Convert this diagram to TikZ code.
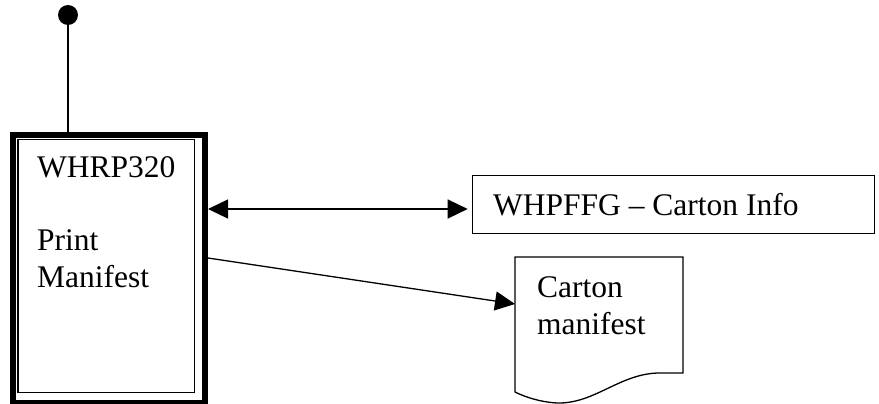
\documentclass[tikz,border=0pt]{standalone}
\usepackage{fontspec}
\setmainfont{Liberation Serif}
\usetikzlibrary{arrows.meta}
\begin{document}
\begin{tikzpicture}[x=1pt,y=-1pt,
  >={Triangle[length=20pt,width=19pt]},
  thin line/.style={line width=1.3pt},
  lbl/.style={anchor=base west,inner sep=0pt,font=\fontsize{31.5}{36.5}\selectfont}]
\useasboundingbox (0,0) rectangle (879,404);
% main process box (thick-thin border)
\node[draw,line width=6pt,minimum width=192pt,minimum height=268.5pt,inner sep=0pt,anchor=north west] (main) at (10,131.5) {};
\draw[line width=1.5pt] (18,139.5) rectangle (194.5,392.5);
\node[lbl] (t1) at (37,177) {WHRP320};
\node[lbl] (t2) at (37,250) {Print};
\node[lbl] (t3) at (37,287) {Manifest};
% dot and stem
\node[circle,fill,minimum size=20pt,inner sep=0pt] (dot) at (68,15) {};
\draw[thin line] (dot) -- (dot |- main.north);
% info box
\node[draw,thin line,minimum width=402pt,minimum height=57.7pt,inner sep=0pt,anchor=north west] (info) at (471.7,175) {};
\node[lbl] (t4) at (493,215) {WHPFFG – Carton Info};
% document shape
\draw[thin line] (515,257) -- (683,257) -- (683,373) -- (660,373)
  .. controls (620,373) and (595,404) .. (557,403)
  .. controls (540,402) and (525,397) .. (515,392) -- cycle;
\coordinate (doc) at (515,304);
\node[lbl] (t5) at (537,297) {Carton};
\node[lbl] (t6) at (537,334) {manifest};
% connectors
\draw[thin line,<->,shorten >=4pt] (main.east |- 0,209) -- (info.west |- 0,209);
\draw[thin line,->] (main.east |- 0,258) -- (doc);
\end{tikzpicture}
\end{document}
